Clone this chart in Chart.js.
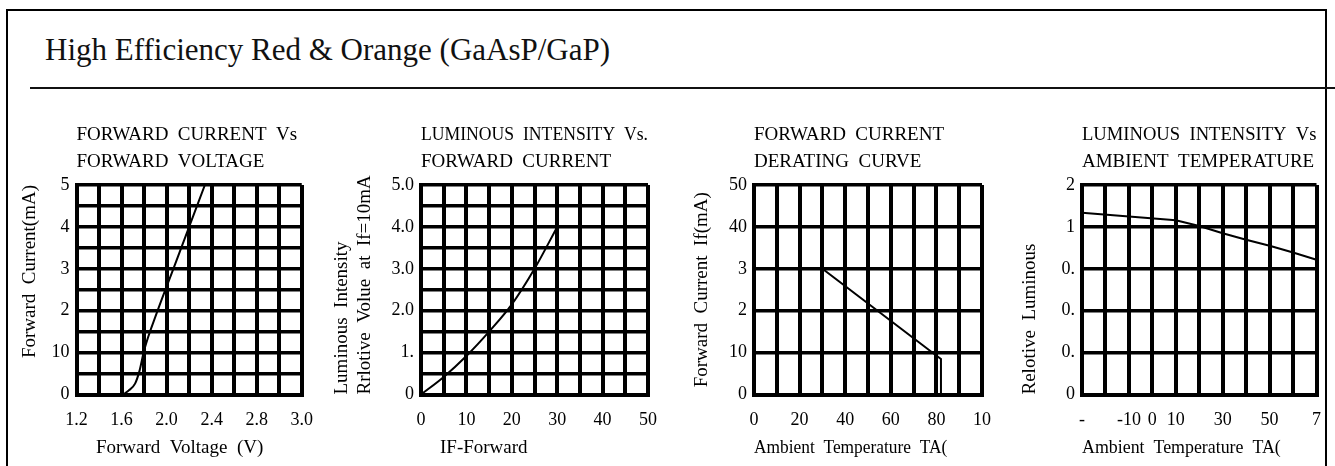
<!DOCTYPE html>
<html>
<head>
<meta charset="utf-8">
<title>High Efficiency Red &amp; Orange (GaAsP/GaP)</title>
<script src="https://cdn.jsdelivr.net/npm/chart.js@4"></script>
<style>
  html, body { margin: 0; padding: 0; background: #fff; }
  body { width: 1335px; height: 466px; position: relative; overflow: hidden; font-family: 'Liberation Serif', 'Times New Roman', serif; }
  .frame { position: absolute; left: 6px; top: 9px; width: 1317px; height: 480px; border: 2.5px solid #000; border-bottom: none; }
  .heading { position: absolute; left: 45px; top: 34px; font-size: 31px; line-height: 32px; color: #111; white-space: nowrap; }
  .rule { position: absolute; left: 30px; top: 86.5px; width: 1305px; height: 2px; background: #111; }
  .box { position: absolute; top: 110px; height: 356px; }
  .clip { position: absolute; top: 110px; height: 356px; overflow: hidden; }
</style>
</head>
<body>
<div class="frame"></div>
<div class="heading">High Efficiency Red &amp; Orange (GaAsP/GaP)</div>
<div class="rule"></div>

<div class="box" style="left:19px; width:309px;"><canvas id="fvChart"></canvas></div>
<div class="box" style="left:331px; width:341px;"><canvas id="liChart"></canvas></div>
<div class="box" style="left:691px; width:315px;"><canvas id="drChart"></canvas></div>
<div class="clip" style="left:1019px; width:304px;">
  <div class="box" style="left:0; top:0; width:317px;"><canvas id="atChart"></canvas></div>
</div>

<script>
// --- Forward current vs forward voltage ---
const fvVolt = [1.2, 1.6, 1.665, 1.72, 1.76, 1.80, 1.92, 2.06, 2.20, 2.34];
const fvCurrent = [0, 0, 1, 2.6, 5.7, 10.5, 20, 30, 40, 50];
const fvXTicks = ['1.2', '', '1.6', '', '2.0', '', '2.4', '', '2.8', '', '3.0'];
const fvYTicks = ['0', '', '10', '', '2', '', '3', '', '4', '', '5'];

// --- Luminous intensity vs forward current ---
const liCurrent = [0, 5, 10, 15, 20, 25, 30];
const liIntensity = [0, 0.42, 0.92, 1.5, 2.15, 3.0, 4.0];
const liXTicks = ['0', '', '10', '', '20', '', '30', '', '40', '', '50'];
const liYTicks = ['0', '', '1.', '', '2.0', '', '3.0', '', '4.0', '', '5.0'];

// --- Forward current derating curve ---
const drTemp = [0, 30, 79.5, 82, 82];
const drCurrent = [30, 30, 9.5, 8.5, 0];
const drXTicks = ['0', '', '20', '', '40', '', '60', '', '80', '', '10'];
const drYTicks = ['0', '10', '2', '3', '40', '50'];

// --- Luminous intensity vs ambient temperature ---
const atTemp = [-30, 10, 20, 30, 40, 50, 60, 70];
const atIntensity = [1.085, 1.04, 1.005, 0.962, 0.923, 0.887, 0.847, 0.804];
const atXTicks = ['-', '', '-10', '0', '10', '', '30', '', '50', '', '7'];
const atYTicks = ['0', '0.', '0.', '0.', '1', '2'];

Chart.defaults.font.family = "'Liberation Serif', 'Times New Roman', serif";
Chart.defaults.color = '#000';

// one tick per grid line, label text taken from the list by index
function gridTicks(min, step, labels) {
    return (axis) => {
        axis.ticks = labels.map((t, i) => ({ value: min + i * step }));
    };
}

function makeChart(id, o) {
    return new Chart(document.getElementById(id), {
        type: 'line',
        data: {
            datasets: [{
                data: o.xs.map((x, i) => ({ x: x, y: o.ys[i] })),
                borderColor: '#000',
                borderWidth: 2,
                pointRadius: 0,
                fill: false,
                cubicInterpolationMode: o.smooth ? 'monotone' : 'default',
                tension: 0
            }]
        },
        options: {
            responsive: true,
            maintainAspectRatio: false,
            animation: false,
            layout: { padding: { left: 0, top: 0, right: 14, bottom: 0 } },
            plugins: {
                legend: { display: false },
                tooltip: { enabled: false },
                title: {
                    display: true,
                    text: o.title,
                    align: 'start',
                    fullSize: false,
                    color: '#000',
                    font: { size: 19, weight: 'normal', lineHeight: 27 / 19 },
                    padding: { top: 11.5, bottom: 9.5 }
                }
            },
            scales: {
                x: {
                    type: 'linear',
                    min: o.xMin,
                    max: o.xMax,
                    afterBuildTicks: gridTicks(o.xMin, o.xStep, o.xTicks),
                    afterFit: (s) => { s.height = 71.5; },
                    grid: { color: '#000', lineWidth: 4, drawTicks: false },
                    border: { color: '#000', width: 4 },
                    ticks: {
                        autoSkip: false, maxRotation: 0, padding: 15,
                        font: { size: 18 },
                        callback: (v, i) => o.xTicks[i]
                    },
                    title: {
                        display: true, text: o.xTitle, align: o.xAlign || 'center',
                        font: { size: 19 }, padding: { top: 0, bottom: 7 }
                    }
                },
                y: {
                    type: 'linear',
                    min: o.yMin,
                    max: o.yMax,
                    afterBuildTicks: gridTicks(o.yMin, o.yStep, o.yTicks),
                    afterFit: (s) => { s.width = o.yWidth; },
                    grid: { color: '#000', lineWidth: 3.5, drawTicks: false },
                    border: { color: '#000', width: 4 },
                    ticks: {
                        autoSkip: false, padding: 7,
                        font: { size: 18 },
                        callback: (v, i) => o.yTicks[i]
                    },
                    title: {
                        display: true, text: o.yTitle, align: o.yAlign || 'center',
                        font: { size: 19 }, padding: 0
                    }
                }
            }
        }
    });
}

makeChart('fvChart', {
    xs: fvVolt, ys: fvCurrent, smooth: true,
    xMin: 1.2, xMax: 3.2, xStep: 0.2, xTicks: fvXTicks,
    yMin: 0, yMax: 50, yStep: 5, yTicks: fvYTicks, yWidth: 57.5,
    title: ['FORWARD  CURRENT  Vs', 'FORWARD  VOLTAGE'],
    xTitle: 'Forward  Voltage  (V)    ',
    yTitle: 'Forward  Current(mA)', yAlign: 'end'
});

makeChart('liChart', {
    xs: liCurrent, ys: liIntensity, smooth: true,
    xMin: 0, xMax: 50, xStep: 5, xTicks: liXTicks,
    yMin: 0, yMax: 5, yStep: 0.5, yTicks: liYTicks, yWidth: 90,
    title: ['LUMINOUS  INTENSITY  Vs.', 'FORWARD  CURRENT'],
    xTitle: '    IF-Forward', xAlign: 'start',
    yTitle: ['Luminous  Intensity', 'Rrlotive  Volue  at  If=10mA'], yAlign: 'start'
});

makeChart('drChart', {
    xs: drTemp, ys: drCurrent,
    xMin: 0, xMax: 100, xStep: 10, xTicks: drXTicks,
    yMin: 0, yMax: 50, yStep: 10, yTicks: drYTicks, yWidth: 63,
    title: ['FORWARD  CURRENT', 'DERATING  CURVE'],
    xTitle: 'Ambient  Temperature  TA(        ',
    yTitle: 'Forward  Current  If(mA)'
});

makeChart('atChart', {
    xs: atTemp, ys: atIntensity,
    xMin: -30, xMax: 70, xStep: 10, xTicks: atXTicks,
    yMin: 0, yMax: 1.25, yStep: 0.25, yTicks: atYTicks, yWidth: 63,
    title: ['LUMINOUS  INTENSITY  Vs', 'AMBIENT  TEMPERATURE'],
    xTitle: 'Ambient  Temperature  TA(        ',
    yTitle: 'Relotive  Luminous', yAlign: 'start'
});
</script>
</body>
</html>
